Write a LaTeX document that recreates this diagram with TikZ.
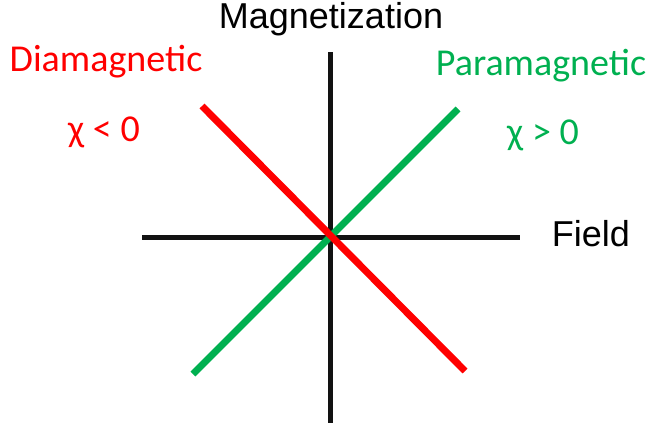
\documentclass[tikz,border=0pt]{standalone}
\usepackage{fontspec}
\setmainfont{Liberation Sans}
\newfontfamily\calibri{Carlito}
\usetikzlibrary{positioning}
\definecolor{diared}{HTML}{FF0000}
\definecolor{paragreen}{HTML}{00B050}
\begin{document}
\begin{tikzpicture}[
			x=1pt, y=-1pt,
			axis/.style={line width=5pt, draw=black!93},
			response/.style={line width=7pt},
			title/.style={font=\fontsize{36}{40}\selectfont, inner sep=0pt},
			kind/.style={font=\calibri\fontsize{38}{42}\selectfont, inner sep=0pt}
		]
		\useasboundingbox (0,0) rectangle (647,423);

		% axes
		\coordinate (FieldLeft) at (142,237);
		\coordinate (FieldRight) at (520,237);
		\coordinate (MagTop) at (330,52);
		\coordinate (MagBottom) at (330,423);
		\draw[axis] (FieldLeft) -- (FieldRight);
		\draw[axis] (MagTop) -- (MagBottom);

		% susceptibility lines
		\coordinate (DiaTop) at (202,106);
		\coordinate (DiaBottom) at (465,371);
		\coordinate (ParaBottom) at (193,374);
		\coordinate (ParaTop) at (458,109);
		\draw[response, draw=paragreen] (ParaBottom) -- (ParaTop);
		\draw[response, draw=diared] (DiaTop) -- (DiaBottom);

		% labels
		\node[title] (Magnetization) at (331,19) {Magnetization};
		\node[title] (Field) at (591,234) {Field};
		\node[kind, text=diared] (Diamagnetic) at (106,62) {Diamagnetic};
		\node[kind, text=diared] (DiaChi) at (104,132) {χ < 0};
		\node[kind, text=paragreen] (Paramagnetic) at (541,66) {Paramagnetic};
		\node[kind, text=paragreen] (ParaChi) at (543,135) {χ > 0};
	\end{tikzpicture}
\end{document}
